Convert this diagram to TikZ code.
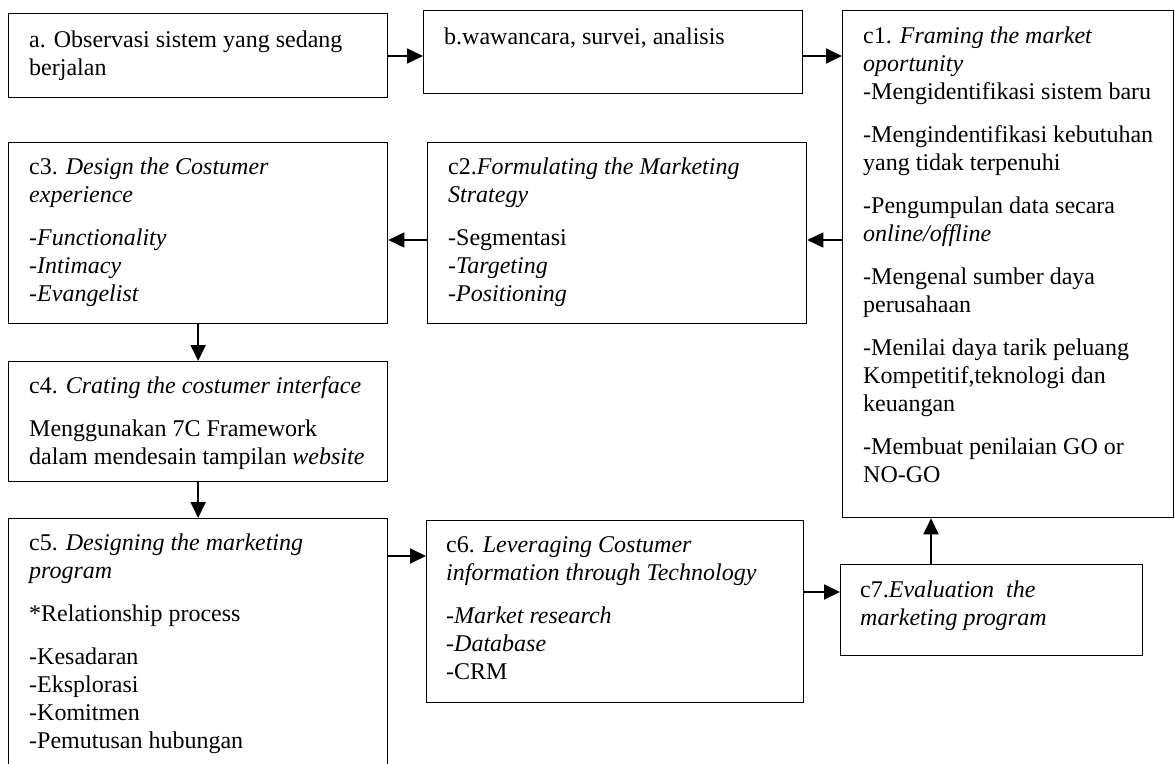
\documentclass[tikz,border=0pt]{standalone}
\usepackage{fontspec}
\setmainfont{Liberation Serif}
\usetikzlibrary{arrows.meta}
\newcommand{\bxt}[1]{\parbox[t]{420pt}{\fontsize{24}{28}\selectfont\raggedright #1}}
\newcommand{\gp}{\\[15pt]}
\begin{document}
\begin{tikzpicture}[x=1pt,y=-1pt,
  box/.style={draw=black, line width=1.3pt, rectangle, anchor=north west, inner sep=0pt},
  txt/.style={anchor=base west, inner sep=0pt},
  arr/.style={line width=1.8pt, -{Triangle[length=16pt,width=15pt]}}]
\clip (0,0) rectangle (1175,763);
\fill[white] (0,0) rectangle (1175,763);
% boxes
\node[box, minimum width=379pt, minimum height=84pt]  (a)  at (8,13) {};
\node[box, minimum width=379pt, minimum height=83pt]  (b)  at (423,10) {};
\node[box, minimum width=331pt, minimum height=507pt] (c1) at (842,10) {};
\node[box, minimum width=379pt, minimum height=181pt] (c2) at (427,142) {};
\node[box, minimum width=379pt, minimum height=181pt] (c3) at (8,142) {};
\node[box, minimum width=379pt, minimum height=120pt] (c4) at (8,361) {};
\node[box, minimum width=379pt, minimum height=270pt] (c5) at (8,518) {};
\node[box, minimum width=377pt, minimum height=182pt] (c6) at (426,520) {};
\node[box, minimum width=302pt, minimum height=91pt]  (c7) at (840,564) {};
% texts
\node[txt] (ta) at (29,47) {\bxt{a. Observasi sistem yang sedang\\berjalan}};
\node[txt] (tb) at (444,44) {\bxt{b.wawancara, survei, analisis}};
\node[txt] (tc1) at (863,43) {\bxt{c1. \textit{Framing the market}\\\textit{oportunity}\\-Mengidentifikasi sistem baru\gp -Mengindentifikasi kebutuhan\\yang tidak terpenuhi\gp -Pengumpulan data secara\\\textit{online/offline}\gp -Mengenal sumber daya\\perusahaan\gp -Menilai daya tarik peluang\\Kompetitif,teknologi dan\\keuangan\gp -Membuat penilaian GO or\\NO-GO}};
\node[txt] (tc2) at (448,174) {\bxt{c2.\textit{Formulating the Marketing}\\\textit{Strategy}\gp -Segmentasi\\\textit{-Targeting}\\\textit{-Positioning}}};
\node[txt] (tc3) at (29,174) {\bxt{c3. \textit{Design the Costumer}\\\textit{experience}\gp \textit{-Functionality}\\\textit{-Intimacy}\\\textit{-Evangelist}}};
\node[txt] (tc4) at (29,393) {\bxt{c4. \textit{Crating the costumer interface}\gp Menggunakan 7C Framework\\dalam mendesain tampilan \textit{website}}};
\node[txt] (tc5) at (29,550) {\bxt{c5. \textit{Designing the marketing}\\\textit{program}\gp *Relationship process\gp -Kesadaran\\-Eksplorasi\\-Komitmen\\-Pemutusan hubungan}};
\node[txt] (tc6) at (446,552) {\bxt{c6. \textit{Leveraging Costumer}\\\textit{information through Technology}\gp \textit{-Market research}\\\textit{-Database}\\-CRM}};
\node[txt] (tc7) at (860,597) {\bxt{c7.\textit{Evaluation\ \ the}\\\textit{marketing program}}};
% connectors
\coordinate (ya) at (0,56);
\coordinate (y2) at (0,240);
\coordinate (y5) at (0,556);
\coordinate (y6) at (0,592);
\coordinate (x7) at (931,0);
\draw[arr] (a.east |- ya) -- (b.west |- ya);
\draw[arr] (b.east |- ya) -- (c1.west |- ya);
\draw[arr] (c1.west |- y2) -- (c2.east |- y2);
\draw[arr] (c2.west |- y2) -- (c3.east |- y2);
\draw[arr] (c3.south) -- (c4.north);
\draw[arr] (c4.south) -- (c5.north);
\draw[arr] (c5.east |- y5) -- (c6.west |- y5);
\draw[arr] (c6.east |- y6) -- (c7.west |- y6);
\draw[arr] (c7.north -| x7) -- (c1.south -| x7);
\end{tikzpicture}
\end{document}
